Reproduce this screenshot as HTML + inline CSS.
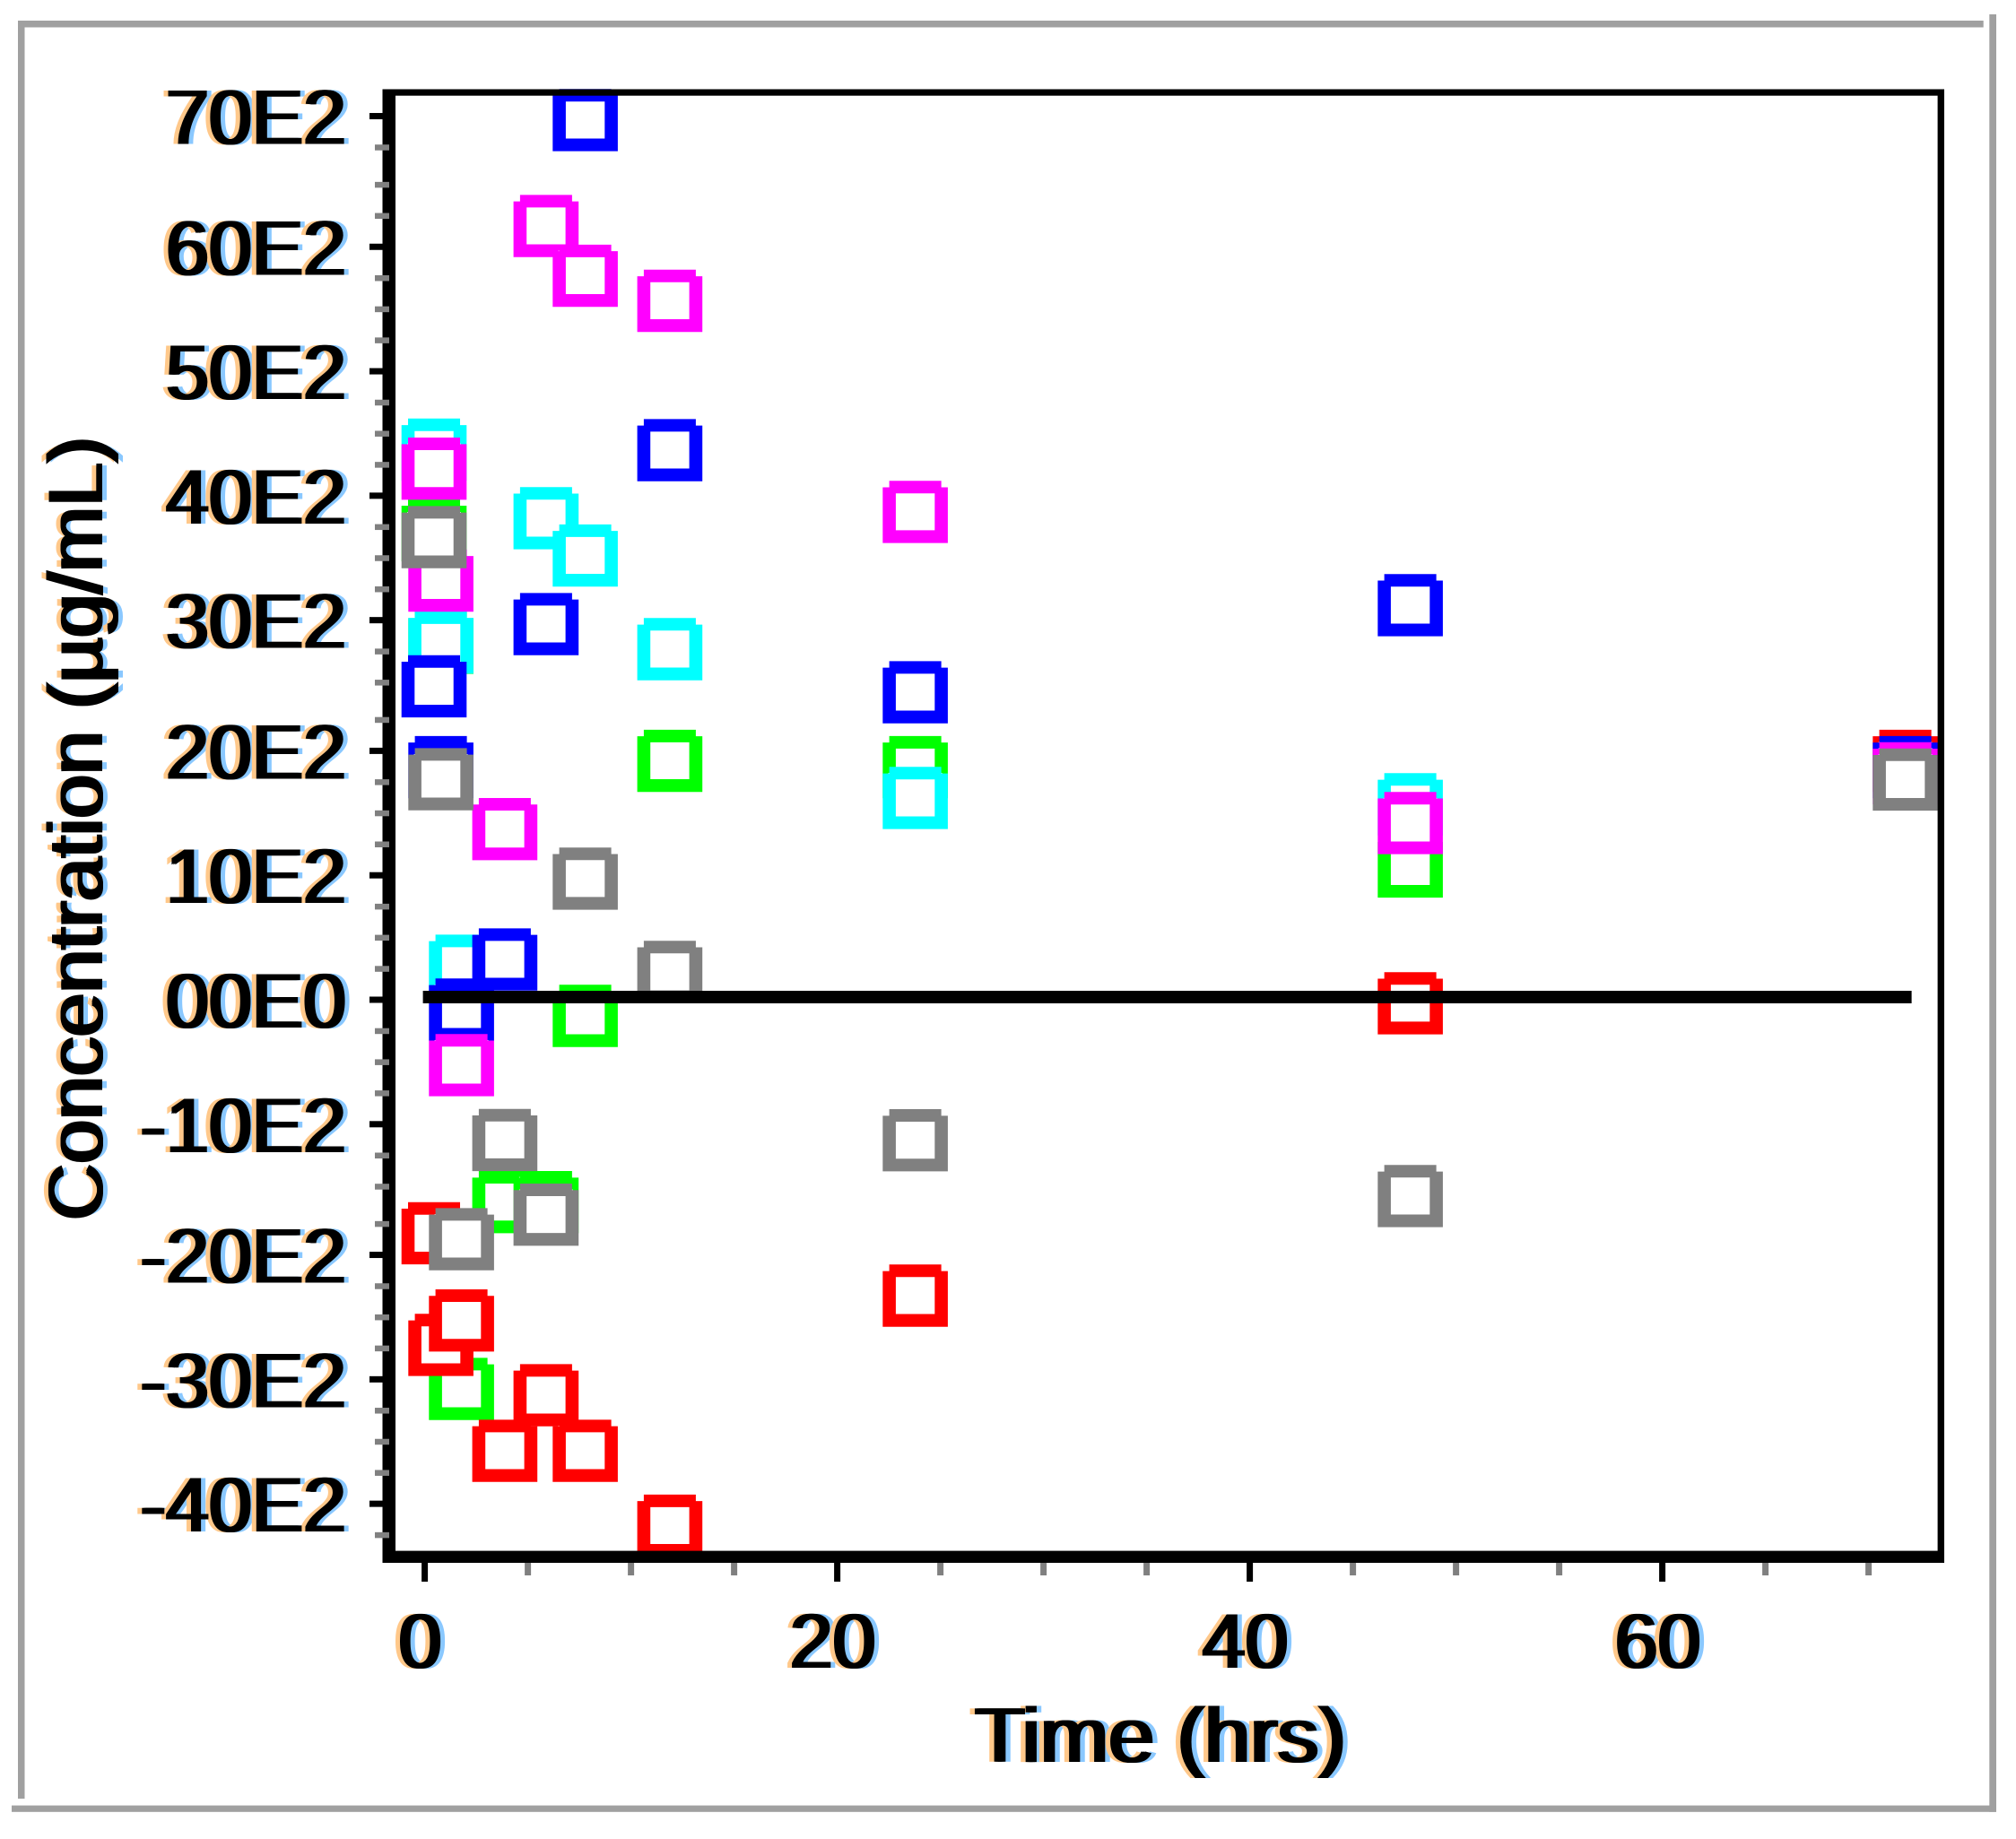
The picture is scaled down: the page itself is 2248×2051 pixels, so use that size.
<!DOCTYPE html>
<html lang="en">
<head>
<meta charset="utf-8">
<title>Concentration vs Time</title>
<style>
  html, body { margin: 0; padding: 0; background: #ffffff; }
  #chart { display: block; position: absolute; left: 0; top: 0; }
  text {
    font-family: "Liberation Sans", sans-serif;
    font-weight: normal;
    fill: #000000;
    text-shadow: 2px 0 0 #000000, -2px 0 0 #000000, -7px 0 0 #ffc88a, 7px 0 0 #8ac8ff;
  }
  #y-title { text-shadow: 2px 0 0 #000000, -2px 0 0 #000000, 0 -5px 0 #ffc88a, 0 5px 0 #8ac8ff; }
</style>
</head>
<body>
<svg id="chart" width="2248" height="2051" viewBox="0 0 2248 2051" xmlns="http://www.w3.org/2000/svg">
  <rect x="0" y="0" width="2248" height="2051" fill="#ffffff"/>
  <g fill="#a0a0a0">
    <rect x="20" y="23" width="7.5" height="1983"/>
    <rect x="20" y="23" width="2191.7" height="7.5"/>
    <rect x="2218.3" y="16" width="7.7" height="2004.8"/>
    <rect x="13" y="2013.6" width="2213" height="7.2"/>
  </g>
  <g id="marks"></g>
  <g id="ref"></g>
  <g fill="#000000">
    <rect x="426.5" y="99.5" width="14.5" height="1643.5"/>
    <rect x="426.5" y="99.5" width="1741.5" height="7.2"/>
    <rect x="2160.6" y="99.5" width="7.4" height="1643.5"/>
    <rect x="426.5" y="1729.6" width="1741.5" height="13.4"/>
  </g>
  <g id="yticks"></g>
  <g id="xticks"></g>
  <text id="y-title" transform="translate(114 1361) rotate(-90)" font-size="86" textLength="874" lengthAdjust="spacingAndGlyphs">Concentration (µg/mL)</text>
  <text x="1087" y="1965" font-size="86" textLength="414" lengthAdjust="spacingAndGlyphs">Time (hrs)</text>
</svg>
<script>
const times = [0.67, 1, 2, 4.1, 6.1, 8, 12.1, 24, 48, 72];

const greenValues = [3725, 2832, -3088, -1606, -1606, -128, 1896, 1846, 1057, null];
const redValues = [-1853, -2739, -2545, -3579, -3138, -3579, -4173, -2348, -28, 1896];
const cyanValues = [4365, 2835, 270, null, 3821, 3525, 2782, 1601, 1551, null];
const blueValues = [2487, 1846, -78, 320, 2981, 6980, 4361, 2440, 3131, 1846];
const magentaValues = [4214, 3326, -519, 1354, 6140, 5745, 5546, 3871, 1402, 1797];
const grayValues = [3671, 1750, -1900, -1113, -1705, 961, 221, -1115, -1558, 1747];

const yTickValues = [7000, 6000, 5000, 4000, 3000, 2000, 1000, 0, -1000, -2000, -3000, -4000];
const yTickLabels = ["70E2", "60E2", "50E2", "40E2", "30E2", "20E2", "10E2", "00E0", "-10E2", "-20E2", "-30E2", "-40E2"];
const xTickValues = [0, 20, 40, 60];
const xTickLabels = ["0", "20", "40", "60"];
const xMinorValues = [5, 10, 15, 25, 30, 35, 45, 50, 55, 65, 70];
const yMinorStep = 250;
const refTimes = [0, 72];
const refValues = [21, 21];

const SVG_NS = "http://www.w3.org/2000/svg";
function make(tag) { return document.createElementNS(SVG_NS, tag); }

function xScale(t) { return 473.6 + 23 * t; }
function yScale(v) { return 1115 - v * 0.14055; }
function yTickPos(v) { return 1115 - 6.94 * Math.round(v * 0.02024 - 0.1); }

function squarePath(cx, cy) {
  const l = cx - 36.3, r = cx + 36.3, t = cy - 34.7, b = cy + 34.7, n = 7.3;
  const il = l + 14.6, ir = r - 14.6, it = t + 14, ib = b - 14.2;
  return "M" + (l + n) + " " + t + "H" + (r - n) + "V" + (t + n) + "H" + r + "V" + b + "H" + l + "V" + (t + n) + "H" + (l + n) + "Z" +
         "M" + il + " " + it + "H" + ir + "V" + ib + "H" + il + "Z";
}

function drawSeries(name, color, values) {
  const group = make("g");
  
  
  values.forEach(function (v, i) {
    if (v === null) return;
    const cx = xScale(times[i]) - 5;
    const cy = yScale(v);
    const inner = make("rect");
    inner.setAttribute("x", cx - 30);
    inner.setAttribute("y", cy - 28);
    inner.setAttribute("width", 60);
    inner.setAttribute("height", 56);
    inner.setAttribute("fill", "#ffffff");
    
    
    group.appendChild(inner);
    const p = make("path");
    p.setAttribute("d", squarePath(cx, cy));
    p.setAttribute("fill", color);
    p.setAttribute("fill-rule", "evenodd");
    
    
    group.appendChild(p);
  });
  document.getElementById("marks").appendChild(group);
}

drawSeries("green", "#00ff00", greenValues);
drawSeries("red", "#ff0000", redValues);
drawSeries("cyan", "#00ffff", cyanValues);
drawSeries("blue", "#0000ff", blueValues);
drawSeries("magenta", "#ff00ff", magentaValues);
drawSeries("gray", "#808080", grayValues);

const refLine = make("line");
refLine.setAttribute("x1", xScale(refTimes[0]) - 2);
refLine.setAttribute("x2", xScale(refTimes[1]) + 2);
refLine.setAttribute("y1", yScale(refValues[0]));
refLine.setAttribute("y2", yScale(refValues[1]));
refLine.setAttribute("stroke", "#000000");
refLine.setAttribute("stroke-width", "14");


document.getElementById("ref").appendChild(refLine);

const yGroup = document.getElementById("yticks");
for (let v = -4250; v <= 6750; v += yMinorStep) {
  if (v % 1000 === 0) continue;
  const m = make("rect");
  m.setAttribute("x", 418);
  m.setAttribute("y", yTickPos(v) - 3);
  m.setAttribute("width", 16);
  m.setAttribute("height", 6.5);
  m.setAttribute("fill", "#808080");
  
  
  yGroup.appendChild(m);
}
yTickValues.forEach(function (v, i) {
  const t = make("rect");
  t.setAttribute("x", 412);
  t.setAttribute("y", yTickPos(v) - 3.5);
  t.setAttribute("width", 16);
  t.setAttribute("height", 7);
  t.setAttribute("fill", "#000000");
  
  
  yGroup.appendChild(t);
  const label = make("text");
  label.setAttribute("x", 386);
  label.setAttribute("y", yTickPos(v) + 31);
  label.setAttribute("text-anchor", "end");
  label.setAttribute("font-size", "86");
  
  
  label.textContent = yTickLabels[i];
  yGroup.appendChild(label);
});

const xGroup = document.getElementById("xticks");
xMinorValues.forEach(function (v) {
  const m = make("rect");
  m.setAttribute("x", xScale(v) - 3.5);
  m.setAttribute("y", 1743);
  m.setAttribute("width", 7);
  m.setAttribute("height", 14);
  m.setAttribute("fill", "#808080");
  
  
  xGroup.appendChild(m);
});
xTickValues.forEach(function (v, i) {
  const t = make("rect");
  t.setAttribute("x", xScale(v) - 3.5);
  t.setAttribute("y", 1743);
  t.setAttribute("width", 7);
  t.setAttribute("height", 21);
  t.setAttribute("fill", "#000000");
  
  
  xGroup.appendChild(t);
  const label = make("text");
  label.setAttribute("x", xScale(v) - 5);
  label.setAttribute("y", 1860);
  label.setAttribute("text-anchor", "middle");
  label.setAttribute("font-size", "86");
  
  
  label.textContent = xTickLabels[i];
  xGroup.appendChild(label);
});
</script>
</body>
</html>
